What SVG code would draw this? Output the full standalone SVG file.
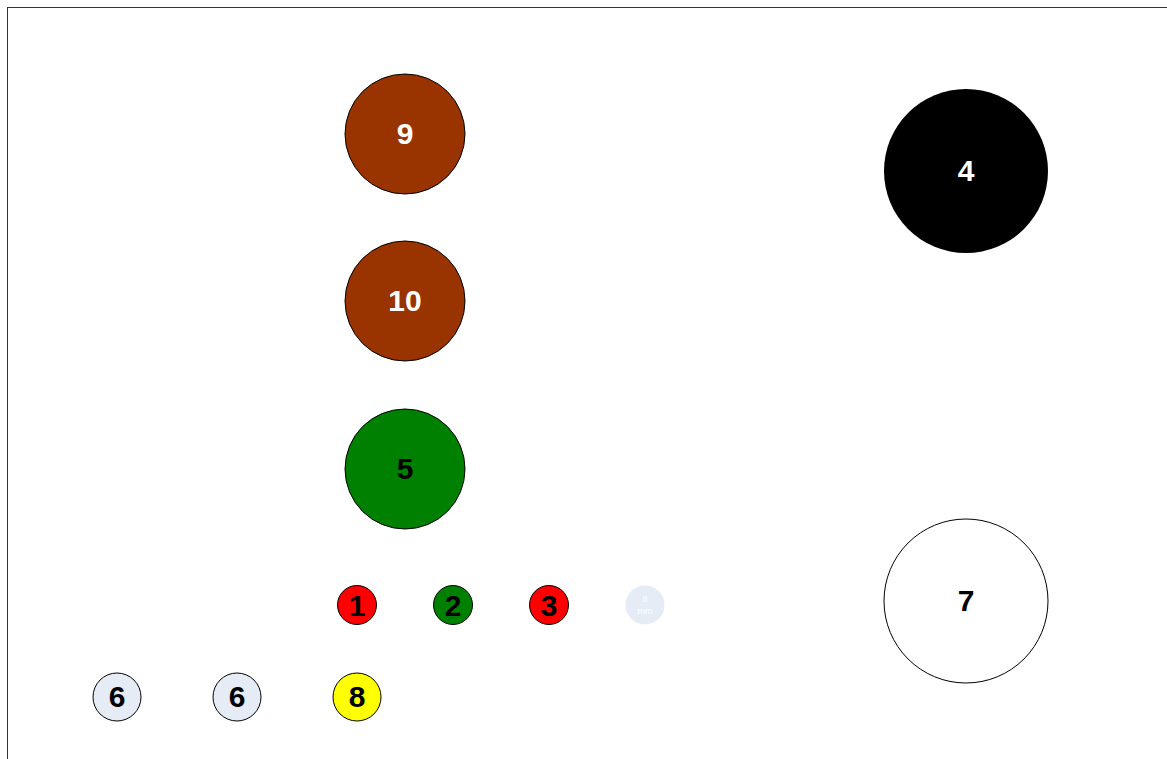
<svg xmlns="http://www.w3.org/2000/svg" width="1167" height="759" viewBox="0 0 1167 759">
<style>
.c{stroke:#000;stroke-width:1}
.t{font-family:"Liberation Sans",Arial,sans-serif;font-weight:bold;text-anchor:middle;dominant-baseline:central;font-size:30px}
.s{font-size:9px;font-weight:normal}
.w{fill:#fff}
.k{fill:#000}
</style>
<rect x="0" y="0" width="1167" height="759" fill="#fff"/>
<rect x="7.5" y="7.5" width="1200" height="800" fill="none" stroke="#333" stroke-width="1"/>
<g id="connectors"/>
<g id="n9"><circle class="c" cx="405" cy="134" r="60" fill="#993300"/><text class="t w" x="405" y="133">9</text></g>
<g id="n10"><circle class="c" cx="405" cy="301" r="60" fill="#993300"/><text class="t w" x="405" y="300">10</text></g>
<g id="n5"><circle class="c" cx="405" cy="469" r="60" fill="#008000"/><text class="t k" x="405" y="468">5</text></g>
<g id="n4"><circle cx="966" cy="171" r="82" fill="#000"/><text class="t w" x="966" y="170">4</text></g>
<g id="n7"><circle class="c" cx="966" cy="601" r="82" fill="#fff"/><text class="t k" x="966" y="600">7</text></g>
<g id="n1"><circle class="c" cx="357" cy="605" r="19.5" fill="#ff0000"/><text class="t k" x="357" y="605">1</text></g>
<g id="n2"><circle class="c" cx="453" cy="605" r="19.5" fill="#008000"/><text class="t k" x="453" y="605">2</text></g>
<g id="n3"><circle class="c" cx="549" cy="605" r="19.5" fill="#ff0000"/><text class="t k" x="549" y="605">3</text></g>
<g id="n8mm"><circle cx="645" cy="605" r="19.5" fill="#e6ecf6"/><text class="t s w" x="645" y="599">8</text><text class="t s w" x="645" y="611">mm</text></g>
<g id="n6a"><circle class="c" cx="117" cy="697" r="24" fill="#e6ecf6"/><text class="t k" x="117" y="696">6</text></g>
<g id="n6b"><circle class="c" cx="237" cy="697" r="24" fill="#e6ecf6"/><text class="t k" x="237" y="696">6</text></g>
<g id="n8"><circle class="c" cx="357" cy="697" r="24" fill="#ffff00"/><text class="t k" x="357" y="696">8</text></g>
</svg>
